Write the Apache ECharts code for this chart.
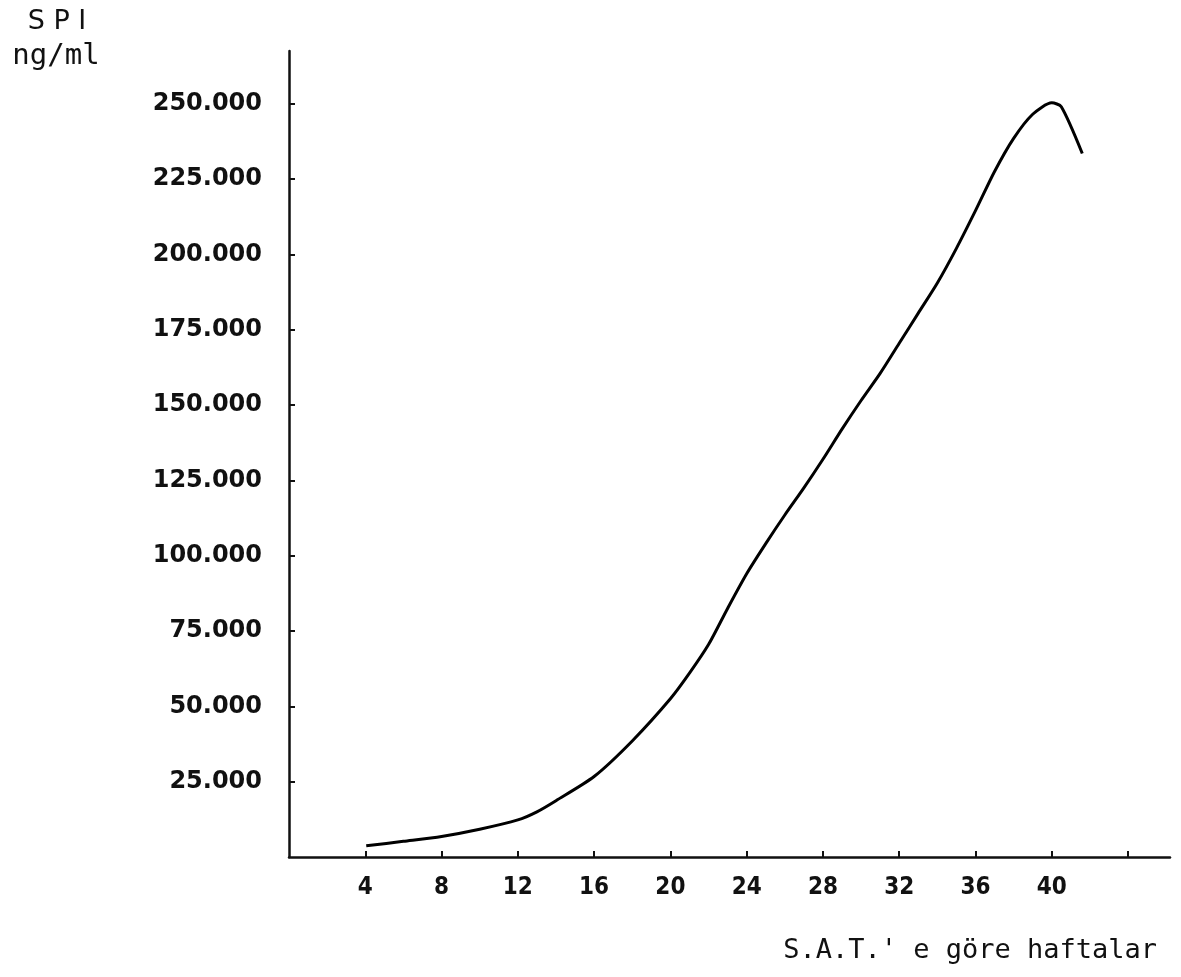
<!DOCTYPE html>
<html>
<head>
<meta charset="utf-8">
<script src="https://cdn.jsdelivr.net/npm/echarts@6/dist/echarts.min.js"></script>
<style>
html,body{margin:0;padding:0;background:#fff;}
#c{width:1181px;height:977px;}
</style>
</head>
<body>
<div id="c"></div>
<script>
// Data
const weeks = [4.05, 6, 8, 10, 12, 13, 14, 16, 18, 20, 21, 22, 23, 24, 25, 26, 27, 28, 29, 30, 31, 32, 33, 34, 35, 36, 37, 38, 39, 40, 40.5, 41.6];
const spi = [3700, 5200, 6800, 9200, 12300, 15000, 18700, 26700, 38500, 52500, 61000, 70500, 82500, 94000, 104000, 113500, 122500, 132000, 142000, 151500, 160500, 170500, 180500, 190500, 202000, 214500, 227500, 238500, 246500, 250300, 249000, 233500];
const xTickValues = [4, 8, 12, 16, 20, 24, 28, 32, 36, 40, 44];
const xLabelValues = [4, 8, 12, 16, 20, 24, 28, 32, 36, 40];
const yTickValues = [25000, 50000, 75000, 100000, 125000, 150000, 175000, 200000, 225000, 250000];
const yLabelValues = [25000, 50000, 75000, 100000, 125000, 150000, 175000, 200000, 225000, 250000];
const yTitle1 = 'S P I';
const yTitle2 = 'ng/ml';
const xTitle = "S.A.T.' e göre haftalar";

const chart = echarts.init(document.getElementById('c'), null, {renderer: 'canvas'});
const fmtY = v => String(Math.round(v / 1000)) + '.000';
chart.setOption({
  backgroundColor: '#ffffff',
  animation: false,
  grid: {left: 289, right: 11, top: 51, bottom: 120, containLabel: false},
  graphic: [
    {type: 'text', x: 57, y: 8, style: {text: yTitle1, fontFamily: 'DejaVu Sans', fontSize: 27, fill: '#111', textAlign: 'center'}},
    {type: 'text', x: 56, y: 42, style: {text: yTitle2, fontFamily: 'DejaVu Sans Mono', fontSize: 29, fill: '#111', textAlign: 'center'}}
  ],
  xAxis: {
    type: 'value',
    min: 0,
    max: 46.2,
    name: xTitle,
    nameLocation: 'end',
    nameGap: -13,
    nameTextStyle: {fontFamily: 'DejaVu Sans Mono', fontSize: 27, color: '#111', align: 'right', verticalAlign: 'top', padding: [80, 0, 0, 0]},
    axisLine: {show: true, onZero: false, lineStyle: {color: '#111', width: 2.5}},
    axisTick: {show: true, inside: true, length: 6, customValues: xTickValues, lineStyle: {color: '#111', width: 2}},
    axisLabel: {show: true, customValues: xLabelValues, margin: 19, fontFamily: 'DejaVu Sans Condensed, DejaVu Sans', fontWeight: 'bold', fontSize: 24, color: '#111'},
    splitLine: {show: false}
  },
  yAxis: {
    type: 'value',
    min: 0,
    max: 267500,
    axisLine: {show: true, onZero: false, lineStyle: {color: '#111', width: 2.5}},
    axisTick: {show: true, inside: true, length: 6, customValues: yTickValues, lineStyle: {color: '#111', width: 2}},
    axisLabel: {show: true, customValues: yLabelValues, margin: 27, formatter: fmtY, fontFamily: 'DejaVu Sans', fontWeight: 'bold', fontSize: 24, color: '#111'},
    splitLine: {show: false}
  },
  series: [{
    type: 'line',
    data: weeks.map((w, i) => [w, spi[i]]),
    smooth: 0.25,
    showSymbol: false,
    lineStyle: {color: '#000', width: 3}
  }]
});
</script>
</body>
</html>
